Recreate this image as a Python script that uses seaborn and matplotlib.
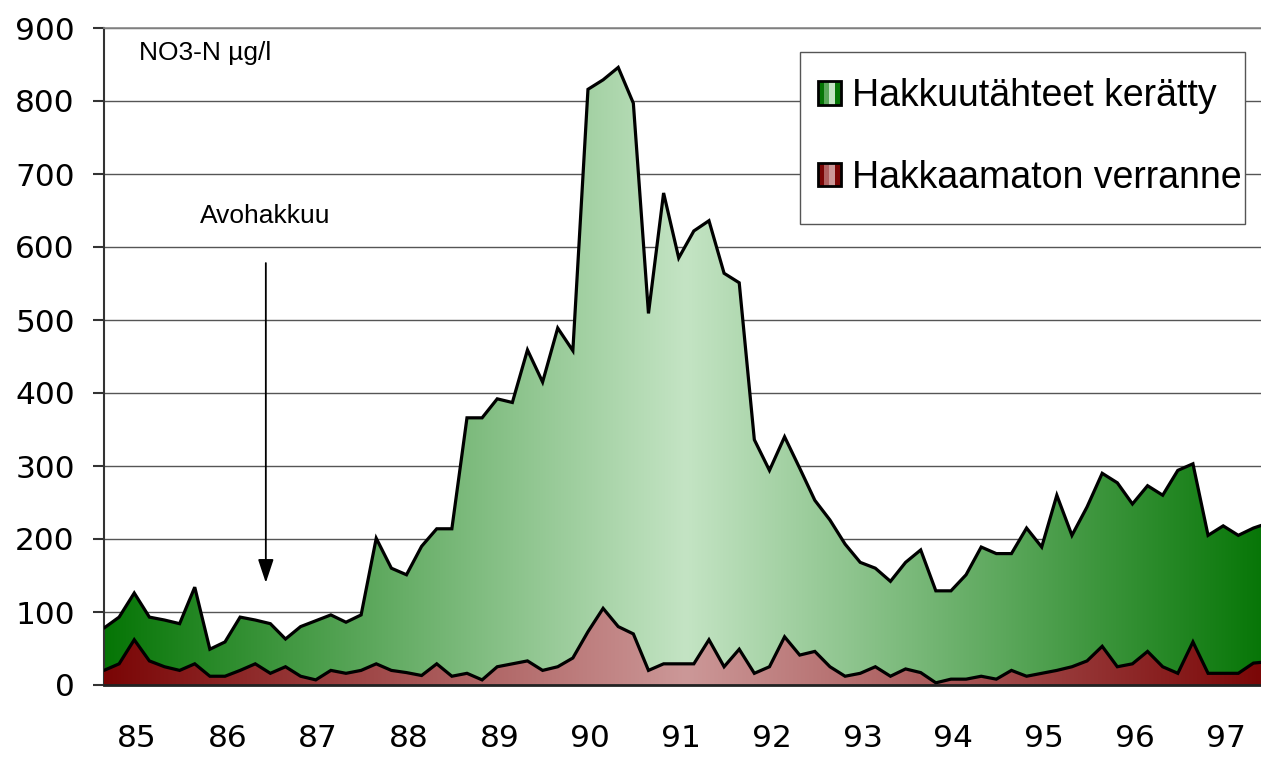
import numpy as np
import pandas as pd
import matplotlib
matplotlib.use('Agg')
import matplotlib.pyplot as plt
import seaborn as sns
from matplotlib.colors import to_rgb
from matplotlib.patches import Rectangle
from matplotlib.legend_handler import HandlerBase

# bimonthly NO3-N samples, 1985 ->
years = ['85', '86', '87', '88', '89', '90', '91', '92', '93', '94', '95', '96', '97']
harvested = [78, 93, 126, 93, 89, 84, 134, 49, 59, 93, 89, 84,
             63, 80, 88, 96, 86, 96, 201, 160, 151, 190, 214, 214,
             366, 366, 392, 387, 459, 415, 489, 458, 816, 829, 846, 797,
             509, 674, 585, 622, 636, 564, 551, 336, 294, 340, 297, 253,
             226, 193, 168, 160, 142, 168, 185, 129, 129, 151, 189, 180,
             180, 215, 189, 260, 205, 244, 290, 277, 248, 273, 260, 294,
             303, 205, 218, 205, 215, 222]
control = [20, 29, 62, 33, 25, 20, 29, 12, 12, 20, 29, 16,
           25, 12, 7, 20, 16, 20, 29, 20, 17, 13, 29, 12,
           16, 7, 25, 29, 33, 20, 25, 37, 73, 105, 80, 70,
           20, 29, 29, 29, 62, 25, 49, 16, 25, 66, 41, 46,
           25, 12, 16, 25, 12, 22, 17, 3, 8, 8, 12, 8,
           20, 12, 16, 20, 25, 33, 53, 25, 29, 46, 25, 16,
           59, 16, 16, 16, 30, 32]
labels = ['Hakkuutähteet kerätty', 'Hakkaamaton verranne']

GREEN_DARK, GREEN_LIGHT = '#057505', '#c4e4c4'
RED_DARK, RED_LIGHT = '#7a0505', '#cc9898'


def gradient_fill(ax, x, y, dark, light, zorder):
    poly = ax.fill_between(x, 0, y, facecolor='none', edgecolor='none', zorder=zorder)
    xs = np.linspace(x[0], x[-1], 800)
    center = (x[0] + x[-1]) / 2
    t = np.clip(np.abs(xs - center) / (center - x[0]), 0, 1)
    d, l = np.array(to_rgb(dark)), np.array(to_rgb(light))
    cols = l + (d - l) * t[:, None]
    img = ax.imshow(cols[None, :, :], extent=(x[0], x[-1], 0, max(y) + 5), aspect='auto',
                    origin='lower', interpolation='bilinear', zorder=zorder)
    img.set_clip_path(poly.get_paths()[0], transform=ax.transData)


class StripeHandler(HandlerBase):
    def __init__(self, cols):
        super().__init__()
        self.cols = cols

    def create_artists(self, legend, orig_handle, xdescent, ydescent, width, height, fontsize, trans):
        arts = []
        w = width / len(self.cols)
        for i, c in enumerate(self.cols):
            arts.append(Rectangle((-xdescent + i * w, -ydescent), w, height,
                                  facecolor=c, edgecolor='none', transform=trans))
        arts.append(Rectangle((-xdescent, -ydescent), width, height, facecolor='none',
                              edgecolor='black', lw=2, transform=trans))
        return arts


sns.set_style('white')
plt.rcParams['font.family'] = ['Liberation Sans', 'DejaVu Sans']
plt.rcParams['text.color'] = 'black'
plt.rcParams['xtick.color'] = 'black'
plt.rcParams['ytick.color'] = 'black'

W, H = 1261, 762
fig = plt.figure(figsize=(W / 100, H / 100), dpi=100)
ax = fig.add_axes([104 / W, 77 / H, 1 - 104 / W, 657 / H])

x = np.arange(len(harvested))
gradient_fill(ax, x, harvested, GREEN_DARK, GREEN_LIGHT, 2)
sns.lineplot(data=pd.DataFrame({'x': x, 'y': harvested}), x='x', y='y', color='black',
             lw=2.3, ax=ax, zorder=3, solid_joinstyle='miter')
gradient_fill(ax, x, control, RED_DARK, RED_LIGHT, 4)
sns.lineplot(data=pd.DataFrame({'x': x, 'y': control}), x='x', y='y', color='black',
             lw=2.3, ax=ax, zorder=5, solid_joinstyle='miter')

ax.set_xlim(0, 76.5)
ax.set_ylim(0, 900)
ax.set_xlabel('')
ax.set_ylabel('')
ax.set_yticks(np.arange(0, 901, 100))
ax.set_yticklabels([str(v) for v in range(0, 901, 100)], family='DejaVu Sans', fontsize=22.5)
ax.set_xticks(np.arange(len(years)) * 6 + 2.15)
ax.set_xticklabels(years, family='DejaVu Sans', fontsize=22.5)
ax.tick_params(axis='y', length=8, width=1.5, color='#333333', pad=13, left=True)
ax.tick_params(axis='x', length=0, pad=28)
ax.yaxis.grid(True, color='#555555', lw=1)
ax.set_axisbelow(True)
ax.spines['right'].set_visible(False)
ax.spines['top'].set_color('#888888')
ax.spines['top'].set_linewidth(1.2)
ax.spines['left'].set_color('#333333')
ax.spines['left'].set_linewidth(1.5)
ax.spines['bottom'].set_color('#222222')
ax.spines['bottom'].set_linewidth(2)
ax.spines['bottom'].set_zorder(6)

ax.text(2.3, 856, 'NO3-N µg/l', fontsize=19)
ax.text(6.35, 633, 'Avohakkuu', fontsize=19)
ax.annotate('', xy=(10.7, 140), xytext=(10.7, 578),
            arrowprops=dict(arrowstyle='-|>,head_length=0.72,head_width=0.24', color='black',
                            lw=1.3, mutation_scale=20, shrinkA=0, shrinkB=0))

# legend frame drawn separately (narrower right margin than matplotlib allows)
ax.add_patch(Rectangle((800 / W, 1 - 224 / H), 445 / W, 172 / H, transform=fig.transFigure,
                       facecolor='white', edgecolor='#555555', lw=1, zorder=9, clip_on=False))
h1 = Rectangle((0, 0), 1, 1)
h2 = Rectangle((0, 0), 1, 1)
leg = ax.legend([h1, h2], labels,
                handler_map={h1: StripeHandler([GREEN_DARK, '#5aa85a', GREEN_LIGHT, GREEN_DARK]),
                             h2: StripeHandler([RED_DARK, '#b06060', RED_LIGHT, RED_DARK])},
                loc='upper left', bbox_to_anchor=(818 / W, 1 - 78 / H),
                bbox_transform=fig.transFigure, borderaxespad=0, borderpad=0,
                prop={'family': 'Liberation Sans', 'size': 27},
                handlelength=0.6, handleheight=0.6, handletextpad=0.32,
                labelspacing=1.22, frameon=False)
leg.set_zorder(10)

fig.savefig('out.png', dpi=100)
plt.close()
